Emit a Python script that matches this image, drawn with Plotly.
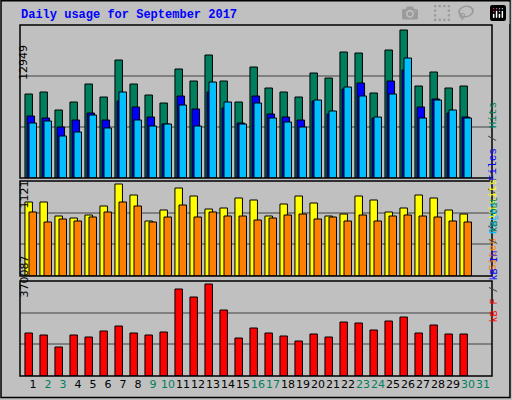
import plotly.graph_objects as go

# values (bar heights in pixels, scaled to the max labels below)
days = list(range(1, 31))
hits_px = [84, 86, 68, 76, 94, 81, 118, 94, 83, 75, 109, 97, 123, 97, 76,
           111, 90, 86, 81, 105, 100, 126, 125, 85, 128, 148, 92, 106, 90, 92]
files_px = [62, 60, 51, 58, 65, 58, 77, 71, 61, 54, 82, 69, 86, 70, 55,
            82, 64, 61, 58, 77, 64, 89, 95, 60, 97, 108, 71, 79, 65, 61]
pages_px = [55, 57, 42, 46, 63, 50, 86, 58, 52, 54, 73, 52, 96, 76, 54,
            75, 60, 56, 51, 78, 67, 91, 82, 61, 84, 120, 60, 78, 68, 60]
visits_px = [74, 74, 60, 58, 61, 70, 92, 81, 55, 66, 88, 80, 67, 68, 78,
             76, 60, 72, 80, 73, 60, 62, 80, 76, 64, 68, 81, 78, 66, 62]
sites_px = [64, 54, 57, 55, 59, 64, 74, 70, 54, 59, 71, 59, 64, 60, 60,
            56, 58, 61, 62, 57, 59, 55, 61, 55, 60, 61, 60, 59, 55, 54]
kb_px = [43, 41, 29, 41, 39, 45, 50, 43, 41, 44, 87, 79, 92, 66, 38,
         48, 43, 40, 35, 42, 39, 54, 53, 46, 55, 59, 43, 51, 42, 42]
max_hits, max_visits, max_kb = 12949, 1121, 370087
weekend = [2, 3, 9, 10, 16, 17, 23, 24, 30, 31]

hits = [v * max_hits / 148 for v in hits_px]
files = [v * max_hits / 148 for v in files_px]
pages = [v * max_hits / 148 for v in pages_px]
visits = [v * max_visits / 92 for v in visits_px]
sites = [v * max_visits / 92 for v in sites_px]
kb = [v * max_kb / 92 for v in kb_px]

W, H = 512, 400
def px_dom_y(top, bottom):
    return [1 - bottom / H, 1 - top / H]

fig = go.Figure()
line = dict(color='black', width=1)

def add(y, color, off, axis):
    fig.add_trace(go.Bar(x=days, y=y, offset=off, width=0.5, marker_color=color,
                         marker_line=line, xaxis='x' if axis == '' else 'x' + axis,
                         yaxis='y' + axis, showlegend=False, hoverinfo='skip'))

add(hits, '#007f5f', -0.54, '')
add(files, '#0000ff', -0.40, '')
add(pages, '#00bfff', -0.27, '')
add(visits, '#ffff00', -0.54, '2')
add(sites, '#ff8000', -0.27, '2')
add(kb, '#ff0000', -0.54, '3')

xr = [0.13, 0.13 + 472 / 15]
xd = [20 / W, 492 / W]
ticktext = [f"<span style='color:{'#007f5f' if d in weekend else 'black'}'>{d}</span>"
            for d in range(1, 32)]
common_x = dict(range=xr, domain=xd, showgrid=False, zeroline=False,
                showline=False, fixedrange=True)
fig.update_layout(
    width=W, height=H, margin=dict(l=0, r=0, t=0, b=0),
    paper_bgcolor='#c0c0c0', plot_bgcolor='#c0c0c0', barmode='overlay',
    xaxis=dict(common_x, anchor='y', showticklabels=False),
    xaxis2=dict(common_x, anchor='y2', showticklabels=False),
    xaxis3=dict(common_x, anchor='y3', tickvals=list(range(1, 32)), ticktext=ticktext,
                tickangle=0, tickfont=dict(family='DejaVu Sans', size=11), ticks=''),
)
panels = [('', max_hits * 153 / 148, px_dom_y(25, 178)),
          ('2', max_visits * 95 / 92, px_dom_y(181, 276)),
          ('3', max_kb * 95 / 92, px_dom_y(281, 376))]
for ax, top, dom in panels:
    fig.update_layout({'yaxis' + ax: dict(
        range=[0, top], domain=dom, anchor='x' if ax == '' else 'x' + ax,
        tickvals=[top / 3, 2 * top / 3], showticklabels=False, gridcolor='#808080',
        gridwidth=1.5, zeroline=False, fixedrange=True)})
    fig.add_shape(type='rect', xref='paper', yref='paper', x0=xd[0], x1=xd[1],
                  y0=dom[0], y1=dom[1], line=dict(color='black', width=1.5))

fig.add_shape(type='rect', xref='paper', yref='paper', x0=0.002, x1=0.996,
              y0=0.006, y1=0.998, line=dict(color='black', width=1.5))

mono = 'Liberation Mono'
fig.add_annotation(text='<b>Daily usage for September 2017</b>', x=19 / W, y=1 - 15 / H,
                   xref='paper', yref='paper', xanchor='left', yanchor='middle',
                   showarrow=False, font=dict(family=mono, size=12, color='#0000ff'))
for txt, yc in [(str(max_hits), 43), (str(max_visits), 195), (str(max_kb), 300)]:
    fig.add_annotation(text=txt, x=15 / W, y=1 - yc / H, xref='paper', yref='paper',
                       textangle=-90, showarrow=False,
                       font=dict(family='DejaVu Sans', size=11, color='black'))

def sp(t, c):
    return f"<span style='color:{c}'>{t}</span>"

sl = sp(' / ', '#404040')
right = [(sp('Pages', '#00bfff') + sl + sp('Files', '#0000ff') + sl + sp('Hits', '#007f5f'), 100, 11),
         (sp('Sites', '#ff8000') + sl + sp('Visits', '#ffff00'), 225, 11),
         (sp('kB F', '#ff0000') + sl + sp('kB In', '#0000ff') + sl + sp('kB Out', '#007f5f'), 325, 10)]
for txt, yc, fs in right:
    fig.add_annotation(text=txt, x=501 / W, y=1 - yc / H, xref='paper', yref='paper',
                       textangle=-90, showarrow=False, font=dict(family=mono, size=fs))

fig.write_html("out.html", post_script="document.body.style.margin='0';")
